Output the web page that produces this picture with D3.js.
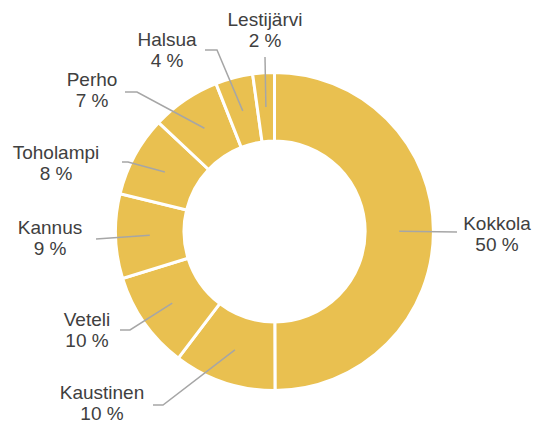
<!DOCTYPE html>
<html>
<head>
<meta charset="utf-8">
<script src="https://cdn.jsdelivr.net/npm/d3@7"></script>
<style>
  body { margin: 0; background: #fff; }
  svg { display: block; }
  .lbl { font-family: "Liberation Sans", Arial, Helvetica, sans-serif; font-size: 19px; fill: #404040; }
  .leader { fill: none; stroke: #a6a6a6; stroke-width: 1.5; }
</style>
</head>
<body>
<svg id="chart" width="534" height="425"></svg>
<script>
// municipalities, clockwise from 12 o'clock
var names = ["Kokkola", "Kaustinen", "Veteli", "Kannus", "Toholampi", "Perho", "Halsua", "Lestijärvi"];
var shares = [50, 10.4, 9.9, 8.6, 8.2, 7.0, 3.8, 2.2];
var pctLabels = ["50 %", "10 %", "10 %", "9 %", "8 %", "7 %", "4 %", "2 %"];

// label layout: text centre x, first baseline y, leader start [x,y], elbow x (null = straight)
var labelLayout = [
  { tx: 497, ty: 230, lx: 457, ly: 232, ex: null },
  { tx: 102, ty: 399, lx: 153, ly: 405, ex: 163 },
  { tx: 87,  ty: 326, lx: 120, ly: 330, ex: 130 },
  { tx: 50,  ty: 234, lx: 96,  ly: 239, ex: null },
  { tx: 56,  ty: 159, lx: 122, ly: 162, ex: 128 },
  { tx: 92,  ty: 86,  lx: 125, ly: 92,  ex: 137 },
  { tx: 167, ty: 46,  lx: 205, ly: 50,  ex: 217 },
  { tx: 265, ty: 26,  lx: 265, ly: 57,  ex: null }
];

var W = 534, H = 425,
    CX = 274.5, CY = 231.5,
    R_OUT = 159, R_IN = 90.5,
    FILL = "#E9C050";

var svg = d3.select("#chart");

var pie = d3.pie().sort(null).value(function(d){ return d; });
var arc = d3.arc().innerRadius(R_IN).outerRadius(R_OUT);
var slices = pie(shares);

var g = svg.append("g").attr("transform", "translate(" + CX + "," + CY + ")");

g.selectAll("path.slice")
  .data(slices)
  .enter().append("path")
  .attr("class", "slice")
  .attr("d", arc)
  .attr("fill", FILL)
  .attr("stroke", "#fff")
  .attr("stroke-width", 3)
  .attr("stroke-linejoin", "miter");

// leader lines: from label side to slice centroid
var line = d3.line();
svg.selectAll("path.leader")
  .data(slices)
  .enter().append("path")
  .attr("class", "leader")
  .attr("d", function(d, i){
    var L = labelLayout[i], c = arc.centroid(d);
    var pts = [[L.lx, L.ly]];
    if (L.ex !== null) pts.push([L.ex, L.ly]);
    pts.push([CX + c[0], CY + c[1]]);
    return line(pts);
  });

var labels = svg.selectAll("text.lbl")
  .data(slices)
  .enter().append("text")
  .attr("class", "lbl")
  .attr("text-anchor", "middle")
  .attr("x", function(d, i){ return labelLayout[i].tx; })
  .attr("y", function(d, i){ return labelLayout[i].ty; });

labels.append("tspan")
  .attr("x", function(d, i){ return labelLayout[i].tx; })
  .text(function(d, i){ return names[i]; });
labels.append("tspan")
  .attr("x", function(d, i){ return labelLayout[i].tx; })
  .attr("dy", 21)
  .text(function(d, i){ return pctLabels[i]; });
</script>
</body>
</html>
